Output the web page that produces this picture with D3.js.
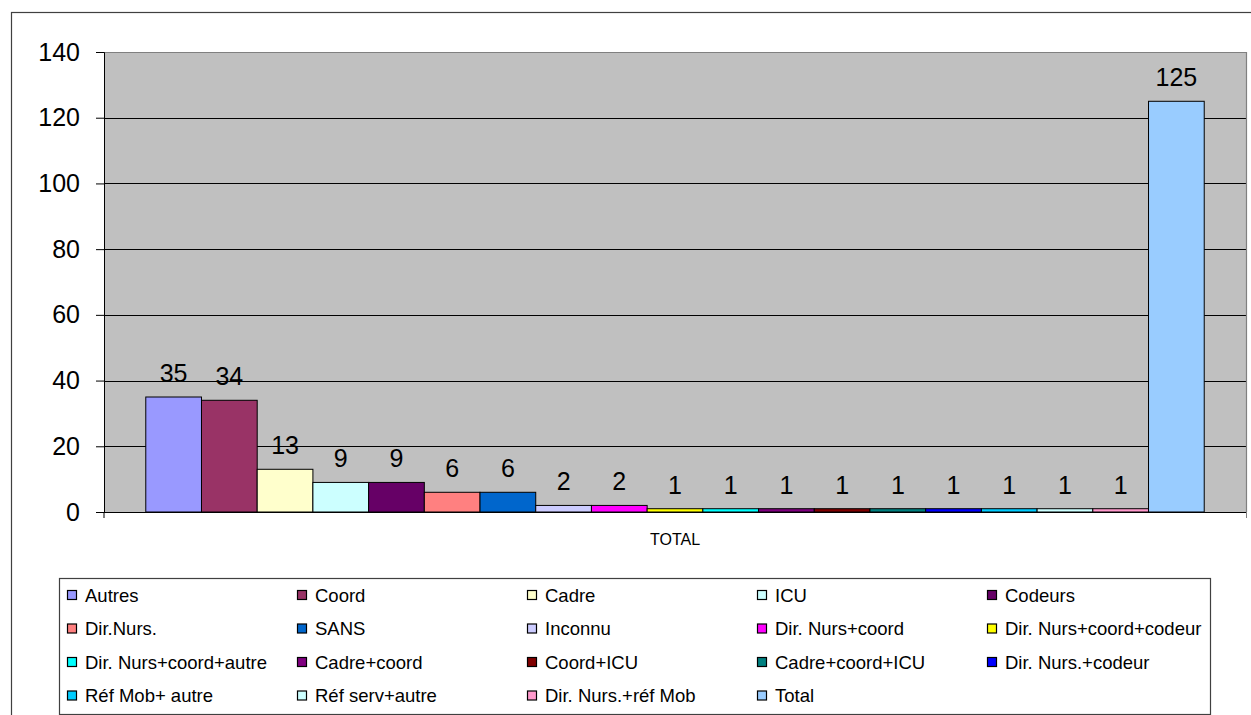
<!DOCTYPE html>
<html>
<head>
<meta charset="utf-8">
<script src="https://cdn.jsdelivr.net/npm/d3@7"></script>
<style>
  html, body { margin: 0; padding: 0; background: #fff; }
  svg { display: block; font-family: "Liberation Sans", Arial, sans-serif; }
</style>
</head>
<body>
<svg id="chart" width="1251" height="715"></svg>
<script>
// ---- data ----
const categories = ['Autres', 'Coord', 'Cadre', 'ICU', 'Codeurs', 'Dir.Nurs.', 'SANS', 'Inconnu',
  'Dir. Nurs+coord', 'Dir. Nurs+coord+codeur', 'Dir. Nurs+coord+autre', 'Cadre+coord', 'Coord+ICU',
  'Cadre+coord+ICU', 'Dir. Nurs.+codeur', 'Réf Mob+ autre', 'Réf serv+autre', 'Dir. Nurs.+réf Mob', 'Total'];
const values = [35, 34, 13, 9, 9, 6, 6, 2, 2, 1, 1, 1, 1, 1, 1, 1, 1, 1, 125];
const colors = ['#9999FF', '#993366', '#FFFFCC', '#CCFFFF', '#660066', '#FF8080', '#0066CC', '#CCCCFF',
  '#FF00FF', '#FFFF00', '#00FFFF', '#800080', '#800000', '#008080', '#0000FF', '#00CCFF', '#CCFFFF', '#FF99CC', '#99CCFF'];
const groupLabels = ['TOTAL'];
const yTicks = [0, 20, 40, 60, 80, 100, 120, 140];

// ---- layout ----
const plot = { left: 104, top: 52, right: 1246, bottom: 512 };
const svg = d3.select('#chart');

// outer chart border
svg.append('rect').attr('x', 11.5).attr('y', 12.5).attr('width', 1300).attr('height', 800)
  .attr('fill', '#fff').attr('stroke', '#404040').attr('stroke-width', 1.2);

const y = d3.scaleLinear().domain([0, 140]).range([plot.bottom, plot.top]);
const x = d3.scaleBand().domain(categories).range([plot.left, plot.right]).paddingInner(0).paddingOuter(0.75);
const xGroup = d3.scaleBand().domain(groupLabels).range([plot.left, plot.right]);

// plot background
svg.append('rect').attr('x', plot.left).attr('y', plot.top)
  .attr('width', plot.right - plot.left).attr('height', plot.bottom - plot.top)
  .attr('fill', '#C0C0C0');

// gridlines
svg.append('g').selectAll('line').data(yTicks.filter(t => t > 0 && t < 140)).enter().append('line')
  .attr('x1', plot.left).attr('x2', plot.right)
  .attr('y1', d => Math.round(y(d)) + 0.5).attr('y2', d => Math.round(y(d)) + 0.5)
  .attr('stroke', '#000').attr('stroke-width', 1);

// plot border top/right
svg.append('path')
  .attr('d', `M${plot.left},${plot.top + 0.5}H${plot.right + 0.5}V${plot.bottom}`)
  .attr('fill', 'none').attr('stroke', '#808080').attr('stroke-width', 1.2);

// bars
svg.append('g').selectAll('rect').data(values).enter().append('rect')
  .attr('x', (d, i) => x(categories[i]))
  .attr('y', d => y(d))
  .attr('width', x.bandwidth())
  .attr('height', d => y(0) - y(d))
  .attr('fill', (d, i) => colors[i])
  .attr('stroke', '#000').attr('stroke-width', 1);

// data labels
svg.append('g').selectAll('text').data(values).enter().append('text')
  .attr('x', (d, i) => x(categories[i]) + x.bandwidth() / 2)
  .attr('y', d => y(d) - 15)
  .attr('text-anchor', 'middle')
  .attr('font-size', 25)
  .attr('fill', '#000')
  .text(d => d);

// y axis
const yAxis = svg.append('g').attr('transform', `translate(${plot.left},0)`)
  .call(d3.axisLeft(y).tickValues(yTicks).tickSize(8).tickPadding(16).tickFormat(d3.format('d')));
yAxis.select('.domain').attr('stroke', '#000');
yAxis.selectAll('.tick line').attr('stroke', '#000');
yAxis.selectAll('text').attr('font-size', 25).attr('font-family', '"Liberation Sans", Arial, sans-serif').attr('fill', '#000');

// x axis
svg.append('line').attr('x1', plot.left).attr('x2', plot.right + 1)
  .attr('y1', plot.bottom + 0.5).attr('y2', plot.bottom + 0.5).attr('stroke', '#000').attr('stroke-width', 1.2);
svg.append('g').selectAll('line').data([plot.left, plot.right + 0.5]).enter().append('line')
  .attr('x1', d => d).attr('x2', d => d).attr('y1', plot.bottom).attr('y2', plot.bottom + 6)
  .attr('stroke', (d, i) => i ? '#808080' : '#000');
svg.append('g').selectAll('text').data(groupLabels).enter().append('text')
  .attr('x', d => xGroup(d) + xGroup.bandwidth() / 2)
  .attr('y', 545)
  .attr('text-anchor', 'middle')
  .attr('font-size', 16)
  .attr('fill', '#000')
  .text(d => d);

// legend
const legend = { x: 59, y: 578, w: 1151, h: 136, colStep: 230, rowStep: 33.5, cols: 5 };
svg.append('rect').attr('x', legend.x + 0.5).attr('y', legend.y + 0.5)
  .attr('width', legend.w).attr('height', legend.h)
  .attr('fill', '#fff').attr('stroke', '#404040').attr('stroke-width', 1.2);

const item = svg.append('g').selectAll('g').data(categories).enter().append('g')
  .attr('transform', (d, i) => `translate(${legend.x + 8 + (i % legend.cols) * legend.colStep},${legend.y + 17 + Math.floor(i / legend.cols) * legend.rowStep})`);
item.append('rect').attr('x', 0.5).attr('y', -4.5).attr('width', 9).attr('height', 9)
  .attr('fill', (d, i) => colors[i]).attr('stroke', '#000').attr('stroke-width', 1.2);
item.append('text').attr('x', 18).attr('y', 6.5)
  .attr('font-size', 18.5).attr('fill', '#000')
  .text(d => d);
</script>
</body>
</html>
